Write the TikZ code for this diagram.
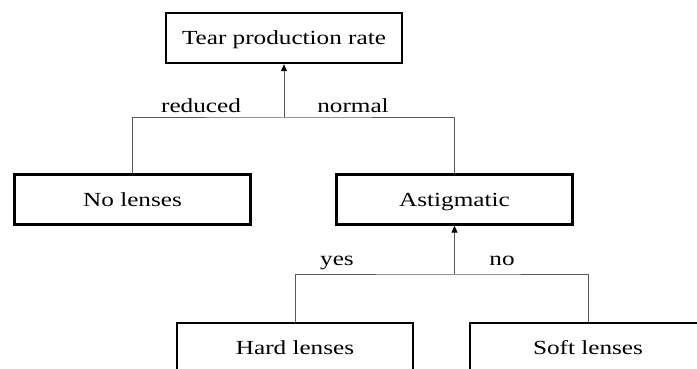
\documentclass[tikz,border=0pt]{standalone}
\usepackage{fontspec}
\setmainfont{Liberation Serif}[FakeStretch=1.26]
\usetikzlibrary{arrows.meta}
\begin{document}
\begin{tikzpicture}[x=1pt,y=-1pt,
  box/.style={draw=black,line width=2.4pt,fill=white,minimum width=236pt,minimum height=50pt,inner sep=0pt,text height=13pt,text depth=0pt,font=\fontsize{20}{24}\selectfont},
  conn/.style={draw=black!65,line width=1pt},
  arr/.style={draw=black!65,line width=1pt,-{Triangle[length=7pt,width=6pt,color=black]}},
  lab/.style={anchor=base,inner sep=0pt,font=\fontsize{20}{24}\selectfont}]
\useasboundingbox (0,0) rectangle (697,369);
\clip (0,0) rectangle (697,369);
\fill[white] (0,0) rectangle (697,369);
\node[box] (top) at (284,38) {Tear production rate};
\node[box] (nolenses) at (132.5,199.5) {No lenses};
\node[box] (astig) at (454.5,199.5) {Astigmatic};
\node[box] (hard) at (295,348) {Hard lenses};
\node[box] (soft) at (588,348) {Soft lenses};
\coordinate (j1) at (284,118);
\coordinate (j2) at (454.5,274);
\draw[conn] (nolenses.north) |- (j1) -| (astig.north);
\draw[arr] (j1) -- (top.south);
\draw[conn] (hard.north) |- (j2) -| (soft.north);
\draw[arr] (j2) -- (astig.south);
\node[lab] (lreduced) at (201,112.5) {reduced};
\node[lab] (lnormal) at (353,112.5) {normal};
\node[lab] (lyes) at (337,265) {yes};
\node[lab] (lno) at (502,265) {no};
\end{tikzpicture}
\end{document}
